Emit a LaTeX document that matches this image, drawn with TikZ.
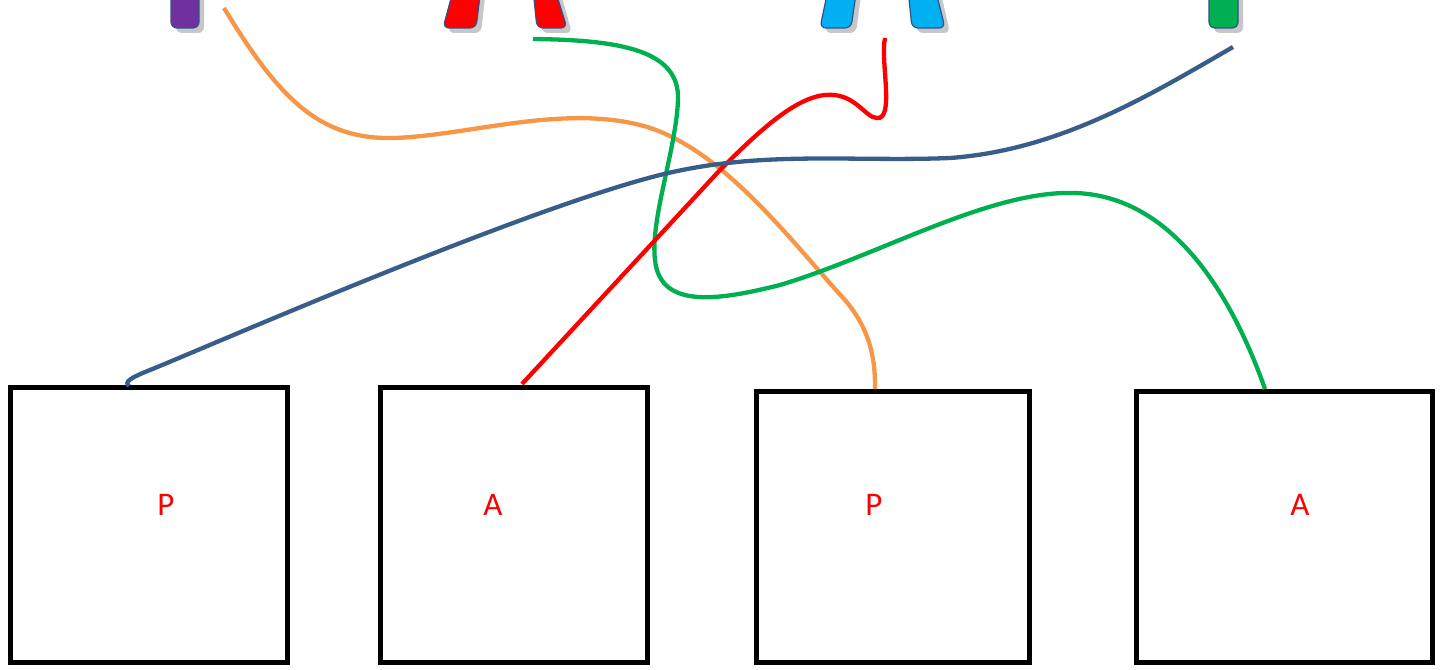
\documentclass[tikz,border=0pt]{standalone}
\usepackage{fontspec}
\setmainfont{Carlito}
\definecolor{cPurple}{RGB}{112,48,160}
\definecolor{cGreen}{RGB}{0,176,80}
\definecolor{cSky}{RGB}{0,176,240}
\definecolor{cOrange}{RGB}{247,150,70}
\definecolor{cSteel}{RGB}{56,93,138}
\definecolor{cEdge}{RGB}{47,82,143}
\begin{document}
\begin{tikzpicture}[x=1pt,y=-1pt,
  boxnode/.style={draw=black,line width=5.5pt,inner sep=0pt,rectangle},
  lbl/.style={text=red,font=\fontsize{33}{40}\selectfont,inner sep=0pt},
  wire/.style={line width=4.3pt},
  letter/.style={draw=cEdge,line width=1.2pt,rounded corners=6pt},
  shade/.style={fill=black!22,rounded corners=6pt}]
\useasboundingbox (0,0) rectangle (1445,669);
\begin{scope}
\clip (0,0) rectangle (1445,669);
% shadows
\fill[shade] (176,-20) rectangle (204,33);
\fill[shade] (1214,-20) rectangle (1243,33);
\fill[shade] (461,-20) -- (487,-20) -- (481,33) -- (448,33) -- cycle;
\fill[shade] (557,-20) -- (537,-20) -- (542,33) -- (572,33) -- cycle;
\fill[shade] (834,-20) -- (863,-20) -- (856,33) -- (825,33) -- cycle;
\fill[shade] (912,-20) -- (938,-20) -- (950,33) -- (917,33) -- cycle;
% letters
\filldraw[letter,fill=cPurple] (171,-20) rectangle (199,28);
\filldraw[letter,fill=cGreen] (1209,-20) rectangle (1238,28);
\filldraw[letter,fill=red] (456,-20) -- (482,-20) -- (476,28) -- (443,28) -- cycle;
\filldraw[letter,fill=red] (552,-20) -- (532,-20) -- (537,28) -- (567,28) -- cycle;
\filldraw[letter,fill=cSky] (830,-20) -- (858,-20) -- (851,28) -- (820,28) -- cycle;
\filldraw[letter,fill=cSky] (907,-20) -- (933,-20) -- (945,28) -- (912,28) -- cycle;
\end{scope}
% boxes
\node[boxnode,minimum width=277pt,minimum height=275pt] (b1) at (149,525) {};
\node[boxnode,minimum width=267pt,minimum height=275pt] (b2) at (514,525) {};
\node[boxnode,minimum width=273pt,minimum height=271pt] (b3) at (893,527) {};
\node[boxnode,minimum width=296pt,minimum height=271pt] (b4) at (1284.5,527) {};
\node[lbl] (l1) at (166,505) {P};
\node[lbl] (l2) at (493,505) {A};
\node[lbl] (l3) at (874,505) {P};
\node[lbl] (l4) at (1300,505) {A};
% wire ends
\coordinate (pO) at (224,8);
\coordinate (pG) at (533,39);
\coordinate (pR) at (885,38);
\coordinate (pB) at (1233,47);
\coordinate (eB) at (129,386);
\coordinate (eR) at (522,384);
\coordinate (eO) at (875,389);
\coordinate (eG) at (1265,389);
% wires
\draw[wire,color=cOrange] (pO) .. controls (280,100) and (320,140) .. (395,138)
  .. controls (470,135) and (560,105) .. (640,125)
  .. controls (720,145) and (790,240) .. (845,300)
  .. controls (875,335) and (875,370) .. (eO);
\draw[wire,color=cGreen] (pG) .. controls (620,40) and (680,50) .. (678,100)
  .. controls (676,150) and (650,220) .. (655,260)
  .. controls (660,310) and (720,300) .. (780,285)
  .. controls (880,255) and (990,190) .. (1075,193)
  .. controls (1170,196) and (1230,290) .. (eG);
\draw[wire,color=red] (pR) .. controls (880,60) and (895,120) .. (877,118)
  .. controls (865,118) and (855,92) .. (825,95)
  .. controls (795,98) and (760,130) .. (720,170) -- (eR);
\draw[wire,color=cSteel] (pB) .. controls (1150,95) and (1060,150) .. (950,158)
  .. controls (850,162) and (760,150) .. (660,175)
  .. controls (520,210) and (200,350) .. (150,370)
  .. controls (130,378) and (124,382) .. (eB);
\end{tikzpicture}
\end{document}
